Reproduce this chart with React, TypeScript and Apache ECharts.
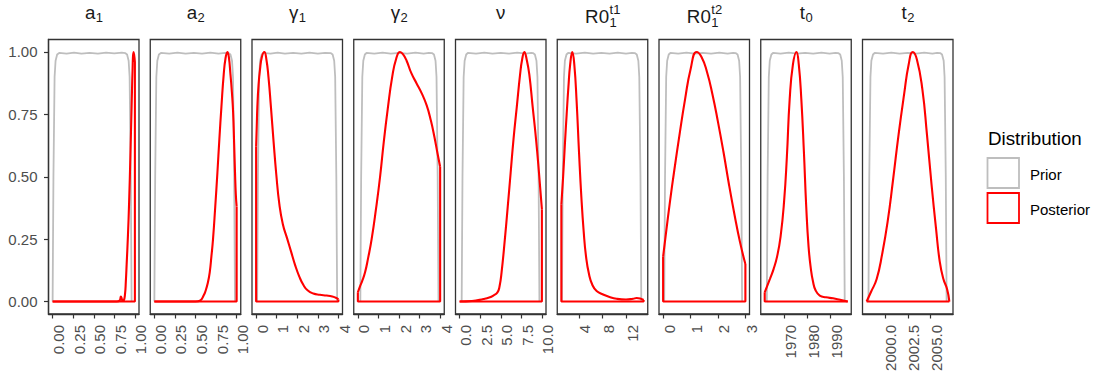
import React, { useEffect, useRef } from "react";
import * as echarts from "echarts";

// ---------- data ----------
const TITLES = [
  { main: "a", sub: "1" },
  { main: "a", sub: "2" },
  { main: "γ", sub: "1" },
  { main: "γ", sub: "2" },
  { main: "ν" },
  { main: "R0", sub: "1", sup: "t1" },
  { main: "R0", sub: "1", sup: "t2" },
  { main: "t", sub: "0" },
  { main: "t", sub: "2" },
];

const X_RANGES = [
  [-0.05, 1.05], [-0.05, 1.05], [-0.2, 4.2], [-0.2, 4.2], [-0.5, 10.5],
  [0.3, 15.7], [-0.15, 3.15], [1960, 1998.8], [1997.55, 2007.45],
];
const X_TICKS = [
  [0, 0.25, 0.5, 0.75, 1], [0, 0.25, 0.5, 0.75, 1], [0, 1, 2, 3, 4], [0, 1, 2, 3, 4],
  [0, 2.5, 5, 7.5, 10], [4, 8, 12], [0, 1, 2, 3], [1970, 1980, 1990], [2000, 2002.5, 2005],
];
const X_DECIMALS = [2, 2, 0, 0, 1, 0, 0, 0, 1];
const Y_TICKS = [0, 0.25, 0.5, 0.75, 1];

const LEGEND_TITLE = "Distribution";
const LEGEND_LABELS = ["Prior", "Posterior"];

// Prior densities (scaled to max 1)
const PRIOR_A1 = [[0,0],[0.01,0.5],[0.024,0.9],[0.036,0.965],[0.055,0.99],[0.08,0.996],[0.17,0.993],[0.26,0.997],[0.35,0.993],[0.45,0.996],[0.55,0.993],[0.65,0.997],[0.75,0.994],[0.84,0.997],[0.885,0.995],[0.905,0.99],[0.924,0.965],[0.936,0.9],[0.95,0.5],[0.96,0]];
const PRIOR_A2 = [[0,0],[0.01,0.5],[0.024,0.9],[0.036,0.965],[0.055,0.99],[0.08,0.996],[0.18,0.993],[0.28,0.997],[0.38,0.993],[0.48,0.996],[0.58,0.993],[0.68,0.997],[0.78,0.993],[0.86,0.996],[0.905,0.995],[0.925,0.99],[0.944,0.965],[0.956,0.9],[0.97,0.5],[0.98,0]];
const PRIOR_G1 = [[0.05,0],[0.09,0.5],[0.146,0.9],[0.194,0.965],[0.27,0.99],[0.35,0.996],[0.7,0.993],[1.05,0.997],[1.4,0.993],[1.8,0.996],[2.2,0.993],[2.6,0.997],[3.0,0.993],[3.35,0.996],[3.64,0.995],[3.72,0.99],[3.796,0.965],[3.844,0.9],[3.9,0.5],[3.94,0]];
const PRIOR_G2 = [[0.12,0],[0.16,0.5],[0.216,0.9],[0.264,0.965],[0.34,0.99],[0.42,0.996],[0.8,0.993],[1.2,0.997],[1.6,0.993],[2.0,0.996],[2.4,0.993],[2.8,0.997],[3.2,0.993],[3.45,0.996],[3.62,0.995],[3.7,0.99],[3.776,0.965],[3.824,0.9],[3.88,0.5],[3.92,0]];
const PRIOR_NU = [[0.25,0],[0.35,0.5],[0.49,0.9],[0.61,0.965],[0.8,0.99],[1.0,0.996],[2.0,0.993],[3.0,0.997],[4.0,0.993],[5.0,0.996],[6.0,0.993],[7.0,0.997],[8.0,0.993],[8.7,0.996],[8.95,0.995],[9.15,0.99],[9.34,0.965],[9.46,0.9],[9.6,0.5],[9.7,0]];
const PRIOR_R1 = [[1.1,0],[1.24,0.5],[1.44,0.9],[1.6,0.965],[1.87,0.99],[2.15,0.996],[3.5,0.993],[5.0,0.997],[6.4,0.993],[7.8,0.996],[9.2,0.993],[10.6,0.997],[12.0,0.993],[13.0,0.996],[13.55,0.995],[13.83,0.99],[14.1,0.965],[14.26,0.9],[14.46,0.5],[14.6,0]];
const PRIOR_R2 = [[0.04,0],[0.07,0.5],[0.112,0.9],[0.148,0.965],[0.205,0.99],[0.265,0.996],[0.55,0.993],[0.85,0.997],[1.15,0.993],[1.45,0.996],[1.75,0.993],[2.05,0.997],[2.35,0.993],[2.55,0.996],[2.655,0.995],[2.715,0.99],[2.772,0.965],[2.808,0.9],[2.85,0.5],[2.88,0]];
const PRIOR_T0 = [[1962.6,0],[1962.95,0.5],[1963.45,0.9],[1963.87,0.965],[1964.55,0.99],[1965.25,0.996],[1968.5,0.993],[1972,0.997],[1975.5,0.993],[1979,0.996],[1982.5,0.993],[1986,0.997],[1989.5,0.993],[1992,0.996],[1993.35,0.995],[1994.06,0.99],[1994.73,0.965],[1995.15,0.9],[1995.65,0.5],[1996,0]];
const PRIOR_T2 = [[1998.2,0],[1998.29,0.5],[1998.42,0.9],[1998.52,0.965],[1998.7,0.99],[1998.88,0.996],[1999.8,0.993],[2000.7,0.997],[2001.6,0.993],[2002.5,0.996],[2003.4,0.993],[2004.3,0.997],[2005.2,0.993],[2005.7,0.996],[2006.08,0.995],[2006.25,0.99],[2006.43,0.965],[2006.53,0.9],[2006.66,0.5],[2006.75,0]];

// Posterior densities (scaled to max 1)
const POST_A1 = [[0,0],[0.78,0],[0.815,0.004],[0.83,0.02],[0.84,0.012],[0.85,0.002],[0.865,0.004],[0.88,0.03],[0.89,0.08],[0.9,0.15],[0.915,0.26],[0.93,0.4],[0.945,0.58],[0.96,0.78],[0.972,0.93],[0.982,1.0],[0.99,0.99],[1.0,0.96]];
const POST_A2 = [[0,0],[0.5,0],[0.56,0.005],[0.6,0.025],[0.62,0.04],[0.65,0.075],[0.673,0.117],[0.693,0.18],[0.713,0.25],[0.74,0.38],[0.766,0.515],[0.79,0.65],[0.815,0.78],[0.843,0.91],[0.865,0.975],[0.888,1.0],[0.905,0.98],[0.925,0.91],[0.942,0.84],[0.957,0.76],[0.97,0.63],[0.98,0.52],[0.99,0.43],[1.0,0.38]];
const POST_G1 = [[0,0.62],[0.03,0.7],[0.06,0.78],[0.12,0.87],[0.19,0.93],[0.28,0.98],[0.4,1.0],[0.5,0.97],[0.6,0.9],[0.72,0.78],[0.85,0.64],[0.98,0.51],[1.13,0.39],[1.3,0.31],[1.5,0.255],[1.7,0.2],[1.9,0.145],[2.1,0.1],[2.3,0.066],[2.5,0.045],[2.78,0.032],[3.1,0.027],[3.43,0.024],[3.7,0.02],[3.9,0.014],[4.0,0.008]];
const POST_G2 = [[0,0.037],[0.1,0.06],[0.2,0.08],[0.35,0.117],[0.5,0.175],[0.67,0.25],[0.88,0.37],[1.08,0.5],[1.26,0.64],[1.45,0.77],[1.67,0.9],[1.87,0.975],[2.05,1.0],[2.2,0.99],[2.37,0.965],[2.6,0.915],[2.85,0.875],[3.1,0.835],[3.35,0.785],[3.55,0.725],[3.72,0.66],[3.88,0.59],[4.0,0.54]];
const POST_NU = [[0,0],[1.5,0.002],[2.9,0.01],[3.6,0.016],[4.1,0.024],[4.6,0.037],[4.85,0.06],[5.1,0.117],[5.5,0.25],[5.85,0.38],[6.2,0.515],[6.55,0.65],[6.95,0.78],[7.35,0.91],[7.6,0.97],[7.87,1.0],[8.15,0.97],[8.47,0.91],[8.88,0.78],[9.29,0.65],[9.65,0.515],[10,0.37]];
const POST_R1 = [[1.0,0.39],[1.3,0.5],[1.6,0.63],[1.9,0.75],[2.2,0.86],[2.5,0.95],[2.86,1.0],[3.2,0.95],[3.6,0.8],[4.0,0.6],[4.4,0.42],[4.8,0.28],[5.2,0.18],[5.7,0.11],[6.3,0.065],[7.0,0.042],[8.1,0.028],[9.2,0.018],[10.4,0.011],[12,0.008],[13.2,0.011],[13.8,0.014],[14.4,0.012],[15.0,0.006]];
const POST_R2 = [[0,0.18],[0.1,0.27],[0.25,0.4],[0.4,0.52],[0.6,0.67],[0.8,0.81],[1.0,0.93],[1.22,1.0],[1.4,0.98],[1.6,0.92],[1.8,0.83],[2.0,0.72],[2.2,0.6],[2.4,0.47],[2.6,0.35],[2.8,0.24],[3.0,0.15]];
const POST_T0 = [[1961.7,0.037],[1963.9,0.09],[1965.5,0.13],[1967,0.18],[1968.5,0.26],[1970,0.4],[1971.2,0.58],[1972.4,0.81],[1973.8,0.95],[1975.3,1.0],[1976.3,0.95],[1977.4,0.81],[1978.5,0.6],[1979.5,0.38],[1980.5,0.22],[1981.5,0.13],[1982.4,0.08],[1983.5,0.045],[1985.3,0.024],[1988,0.017],[1991,0.013],[1994,0.007],[1997.3,0]];
const POST_T2 = [[1998,0],[1998.5,0.04],[1999.1,0.09],[1999.7,0.19],[2000.3,0.32],[2000.9,0.49],[2001.5,0.67],[2002.1,0.83],[2002.6,0.95],[2003.04,1.0],[2003.5,0.97],[2004.1,0.85],[2004.6,0.67],[2005.1,0.47],[2005.6,0.29],[2006,0.16],[2006.4,0.09],[2006.8,0.05],[2007.05,0]];

const PRIORS = [PRIOR_A1, PRIOR_A2, PRIOR_G1, PRIOR_G2, PRIOR_NU, PRIOR_R1, PRIOR_R2, PRIOR_T0, PRIOR_T2];
const POSTERIORS = [POST_A1, POST_A2, POST_G1, POST_G2, POST_NU, POST_R1, POST_R2, POST_T0, POST_T2];

// ---------- layout / style ----------
const W = 1099;
const H = 381;
const P_LEFT = 48.5;
const P_STEP = 101.75;
const P_W = 90.5;
const P_TOP = 39.5;
const P_H = 274.5;
const FONT = "Liberation Sans";
const PRIOR_COLOR = "#bebebe";
const POST_COLOR = "#ff0000";
const AXIS_TEXT = "#4d4d4d";
const DARK = "#333333";
const TITLE_SIZE = 18.75;
const SCRIPT_SIZE = 13;

let measureCtx: CanvasRenderingContext2D | null = null;
function textWidth(text: string, size: number): number {
  if (!measureCtx) measureCtx = document.createElement("canvas").getContext("2d");
  if (!measureCtx) return text.length * size * 0.55;
  measureCtx.font = `${size}px "${FONT}"`;
  return measureCtx.measureText(text).width;
}

function titleElements(t: any, cx: number) {
  const wMain = textWidth(t.main, TITLE_SIZE);
  const wScript = Math.max(t.sub ? textWidth(t.sub, SCRIPT_SIZE) : 0, t.sup ? textWidth(t.sup, SCRIPT_SIZE) : 0);
  const x0 = cx - (wMain + wScript) / 2;
  const stacked = !!t.sup;
  const mainBase = stacked ? 23.5 : 19.5;
  const subBase = stacked ? 27 : 22.5;
  const supBase = 14;
  const els: any[] = [
    {
      type: "text", x: x0, y: mainBase - 0.35 * TITLE_SIZE, silent: true,
      style: { text: t.main, fontSize: TITLE_SIZE, fontFamily: FONT, fill: "#1a1a1a", align: "left", verticalAlign: "middle" },
    },
  ];
  if (t.sub) {
    els.push({
      type: "text", x: x0 + wMain + 0.5, y: subBase - 0.35 * SCRIPT_SIZE, silent: true,
      style: { text: t.sub, fontSize: SCRIPT_SIZE, fontFamily: FONT, fill: "#1a1a1a", align: "left", verticalAlign: "middle" },
    });
  }
  if (t.sup) {
    els.push({
      type: "text", x: x0 + wMain + 0.5, y: supBase - 0.35 * SCRIPT_SIZE, silent: true,
      style: { text: t.sup, fontSize: SCRIPT_SIZE, fontFamily: FONT, fill: "#1a1a1a", align: "left", verticalAlign: "middle" },
    });
  }
  return els;
}

function buildOption() {
  const n = TITLES.length;
  const grids: any[] = [];
  const xAxes: any[] = [];
  const yAxes: any[] = [];
  const series: any[] = [];
  const graphics: any[] = [];

  for (let i = 0; i < n; i++) {
    const left = P_LEFT + i * P_STEP;
    grids.push({
      left, top: P_TOP, width: P_W, height: P_H, show: true,
      borderColor: DARK, borderWidth: 1.3, backgroundColor: "#ffffff", containLabel: false,
    });
    const dec = X_DECIMALS[i];
    xAxes.push({
      type: "value", gridIndex: i, min: X_RANGES[i][0], max: X_RANGES[i][1],
      axisLine: { show: true, onZero: false, lineStyle: { color: DARK, width: 1.3 } },
      splitLine: { show: false },
      axisTick: { show: true, customValues: X_TICKS[i], length: 4.5, lineStyle: { color: DARK, width: 1.2 } },
      axisLabel: {
        show: true, customValues: X_TICKS[i], rotate: 90,
        formatter: (v: number) => Number(v).toFixed(dec),
        fontSize: 15, fontFamily: FONT, color: AXIS_TEXT, margin: 11,
        verticalAlign: "top", lineHeight: 12,
      },
    });
    yAxes.push({
      type: "value", gridIndex: i, min: -0.05, max: 1.05, show: i === 0,
      axisLine: { show: i === 0, onZero: false, lineStyle: { color: DARK, width: 1.3 } },
      splitLine: { show: false },
      axisTick: { show: i === 0, customValues: Y_TICKS, length: 4.5, lineStyle: { color: DARK, width: 1.2 } },
      axisLabel: {
        show: i === 0, customValues: Y_TICKS,
        formatter: (v: number) => Number(v).toFixed(2),
        fontSize: 15, fontFamily: FONT, color: AXIS_TEXT, margin: 11,
      },
    });

    const prior = PRIORS[i];
    const post = POSTERIORS[i];
    const first = post[0];
    const last = post[post.length - 1];
    series.push({
      name: LEGEND_LABELS[0], type: "line", xAxisIndex: i, yAxisIndex: i, data: prior,
      symbol: "none", showSymbol: false, silent: true, z: 2,
      lineStyle: { color: PRIOR_COLOR, width: 1.8, join: "round" },
    });
    series.push({
      name: LEGEND_LABELS[1], type: "line", xAxisIndex: i, yAxisIndex: i, data: post,
      symbol: "none", showSymbol: false, silent: true, z: 3,
      smooth: 0.5,
      lineStyle: { color: POST_COLOR, width: 2.1, join: "round" },
    });
    series.push({
      name: LEGEND_LABELS[1], type: "line", xAxisIndex: i, yAxisIndex: i,
      data: [[last[0], last[1]], [last[0], 0], [first[0], 0], [first[0], first[1]]],
      symbol: "none", showSymbol: false, silent: true, z: 3,
      lineStyle: { color: POST_COLOR, width: 2.1 },
    });

    graphics.push(...titleElements(TITLES[i], left + P_W / 2));
  }

  // legend
  graphics.push({
    type: "text", x: 988, y: 138.6, silent: true,
    style: { text: LEGEND_TITLE, fontSize: TITLE_SIZE, fontFamily: FONT, fill: "#000000", align: "left", verticalAlign: "middle" },
  });
  const keyColors = [PRIOR_COLOR, POST_COLOR];
  const keyTops = [158, 193];
  const labelYs = [174.5, 209];
  for (let k = 0; k < 2; k++) {
    graphics.push({
      type: "rect", silent: true,
      shape: { x: 987.5, y: keyTops[k], width: 31.5, height: 30 },
      style: { fill: "#ffffff", stroke: keyColors[k], lineWidth: 1.8 },
    });
    graphics.push({
      type: "text", x: 1030, y: labelYs[k], silent: true,
      style: { text: LEGEND_LABELS[k], fontSize: 15, fontFamily: FONT, fill: "#000000", align: "left", verticalAlign: "middle" },
    });
  }

  return {
    animation: false,
    backgroundColor: "#ffffff",
    textStyle: { fontFamily: FONT },
    grid: grids,
    xAxis: xAxes,
    yAxis: yAxes,
    series,
    graphic: graphics,
  };
}

export default function App() {
  const ref = useRef<HTMLDivElement>(null);
  useEffect(() => {
    if (!ref.current) return;
    const chart = echarts.init(ref.current, undefined, { renderer: "svg", width: W, height: H });
    chart.setOption(buildOption() as any);
    return () => {
      chart.dispose();
    };
  }, []);
  return (
    <div
      ref={ref}
      style={{ position: "absolute", left: 0, top: 0, width: W, height: H, background: "#ffffff" }}
    />
  );
}
